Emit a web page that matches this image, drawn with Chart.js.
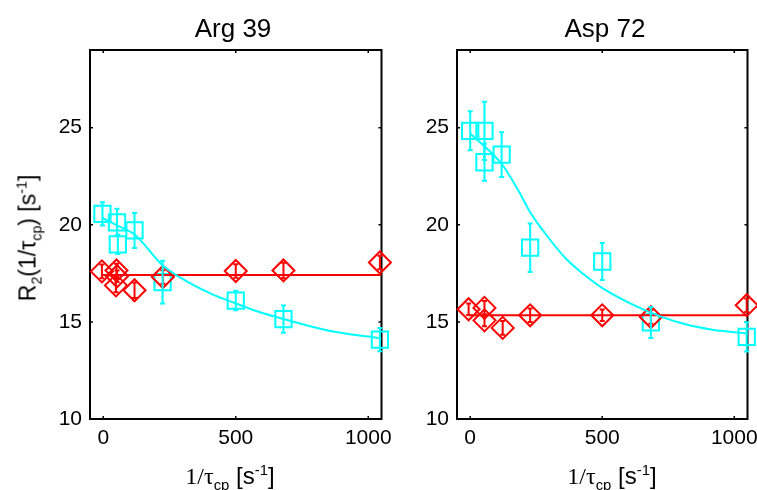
<!DOCTYPE html>
<html>
<head>
<meta charset="utf-8">
<script src="https://cdn.jsdelivr.net/npm/chart.js@4.4.1/dist/chart.umd.min.js"></script>
<style>
  body { margin: 0; width: 757px; height: 490px; background: #fff; position: relative; overflow: hidden;
         font-family: "Liberation Sans", Arial, sans-serif; color: #000; }
  canvas { position: absolute; top: 0; }
  .t { position: absolute; white-space: nowrap; transform: translate(-50%, -50%); line-height: 1; }
  .title { font-size: 26px; }
  .xl { font-size: 24px; }
  .yl { font-size: 23px; transform: translate(-50%, -50%) rotate(-90deg); }
  .serif { font-family: "Liberation Serif", "Times New Roman", serif; }
  sub, sup { font-size: 62%; line-height: 0; }
</style>
</head>
<body>
<canvas id="argChart" style="left:0px"></canvas>
<canvas id="aspChart" style="left:395px"></canvas>

<div class="t title" style="left:233px; top:28px">Arg 39</div>
<div class="t title" style="left:605px; top:28px">Asp 72</div>
<div class="t xl" style="left:230px; top:476px"><span class="serif">1/τ</span><sub>cp</sub> [s<sup>-1</sup>]</div>
<div class="t xl" style="left:612px; top:476px"><span class="serif">1/τ</span><sub>cp</sub> [s<sup>-1</sup>]</div>
<div class="t yl" style="left:28px; top:238px">R<sub>2</sub>(1/τ<sub>cp</sub>) [s<sup>-1</sup>]</div>

<script>
const X_TICKS = [0, 500, 1000];
const Y_TICKS = [10, 15, 20, 25];

// Arg 39 - cyan squares
const argSqX = [-3, 52, 55, 118, 224, 500, 680, 1044];
const argSqY = [20.56, 20.13, 18.99, 19.71, 17.05, 16.1, 15.14, 14.09];
const argSqErr = [0.6, 0.7, 0.5, 0.9, 1.1, 0.5, 0.7, 0.6];
// Arg 39 - red diamonds
const argDiX = [-5, 50, 52, 48, 118, 225, 500, 680, 1044];
const argDiY = [17.6, 17.65, 17.35, 16.88, 16.63, 17.31, 17.62, 17.65, 18.06];
const argDiErr = [0.35, 0.35, 0.3, 0.35, 0.4, 0.35, 0.35, 0.4, 0.35];
// Arg 39 - fits
const argFitCyanX = [-3, 50, 118, 225, 288, 414, 500, 591, 680, 868, 1050];
const argFitCyanY = [20.35, 19.98, 19.5, 17.9, 17.3, 16.4, 15.95, 15.5, 15.15, 14.5, 14.15];
const argFitRedX = [-5, 1050];
const argFitRedY = [17.42, 17.42];

// Asp 72 - cyan squares
const aspSqX = [0, 54, 54, 119, 227, 500, 684, 1047];
const aspSqY = [24.84, 24.84, 23.22, 23.61, 18.82, 18.11, 14.97, 14.23];
const aspSqErr = [1.0, 1.5, 0.95, 1.15, 1.25, 0.95, 0.8, 0.75];
// Asp 72 - red diamonds
const aspDiX = [-6, 54, 54, 123, 227, 500, 684, 1047];
const aspDiY = [15.65, 15.72, 15.08, 14.69, 15.34, 15.34, 15.25, 15.86];
const aspDiErr = [0.3, 0.35, 0.3, 0.35, 0.35, 0.3, 0.35, 0.35];
// Asp 72 - fits
const aspFitCyanX = [0, 119.5, 186, 227, 287, 363, 430, 499, 602, 684, 791, 917, 1056];
const aspFitCyanY = [24.7, 23.13, 21.67, 20.65, 19.5, 18.25, 17.45, 16.75, 15.98, 15.48, 14.97, 14.6, 14.4];
const aspFitRedX = [-6, 1050];
const aspFitRedY = [15.34, 15.34];

const CYAN = '#00ffff';
const RED = '#ff0000';
const FONT = '"Liberation Sans", Arial, sans-serif';

const pts = (xs, ys) => xs.map((x, i) => ({ x: x, y: ys[i] }));

// box with inward ticks, like the original plotting program
const framePlugin = {
  id: 'frame',
  beforeDatasetsDraw(chart) {
    const { ctx, chartArea: a, scales: { x, y } } = chart;
    ctx.save();
    ctx.strokeStyle = '#000';
    ctx.lineWidth = 1.5;
    ctx.beginPath();
    X_TICKS.forEach(v => {
      const px = x.getPixelForValue(v);
      ctx.moveTo(px, a.bottom); ctx.lineTo(px, a.bottom - 3);
      ctx.moveTo(px, a.top); ctx.lineTo(px, a.top + 3);
    });
    Y_TICKS.forEach(v => {
      const py = y.getPixelForValue(v);
      ctx.moveTo(a.left, py); ctx.lineTo(a.left + 3, py);
      ctx.moveTo(a.right, py); ctx.lineTo(a.right - 3, py);
    });
    ctx.stroke();
    ctx.lineWidth = 2;
    ctx.strokeRect(a.left, a.top, a.width, a.height);
    ctx.restore();
  }
};

const errPlugin = {
  id: 'errbars',
  afterDatasetsDraw(chart) {
    const { ctx, scales: { y } } = chart;
    ctx.save();
    chart.data.datasets.forEach((ds, i) => {
      if (!ds.err) return;
      const meta = chart.getDatasetMeta(i);
      ctx.strokeStyle = ds.borderColor;
      ctx.lineWidth = 2;
      meta.data.forEach((el, j) => {
        const v = ds.data[j].y;
        const top = y.getPixelForValue(v + ds.err[j]);
        const bot = y.getPixelForValue(v - ds.err[j]);
        ctx.beginPath();
        ctx.moveTo(el.x, top); ctx.lineTo(el.x, bot);
        ctx.moveTo(el.x - 2.5, top); ctx.lineTo(el.x + 2.5, top);
        ctx.moveTo(el.x - 2.5, bot); ctx.lineTo(el.x + 2.5, bot);
        ctx.stroke();
      });
    });
    ctx.restore();
  }
};

function makeChart(id, w, pad, d) {
  const cv = document.getElementById(id);
  cv.width = w; cv.height = 490;
  cv.style.width = w + 'px'; cv.style.height = '490px';
  return new Chart(cv, {
    data: {
      datasets: [
        { type: 'line', data: pts(d.fcx, d.fcy), borderColor: CYAN, borderWidth: 2, pointRadius: 0,
          cubicInterpolationMode: 'monotone', fill: false },
        { type: 'line', data: pts(d.frx, d.fry), borderColor: RED, borderWidth: 2, pointRadius: 0, fill: false },
        { type: 'scatter', data: pts(d.dx, d.dy), err: d.de, borderColor: RED, backgroundColor: 'rgba(0,0,0,0)',
          pointStyle: 'rectRot', pointRadius: 11, borderWidth: 2, clip: false },
        { type: 'scatter', data: pts(d.sx, d.sy), err: d.se, borderColor: CYAN, backgroundColor: 'rgba(0,0,0,0)',
          pointStyle: 'rect', pointRadius: 11.5, borderWidth: 2, clip: false }
      ]
    },
    options: {
      responsive: false,
      animation: false,
      layout: { padding: pad },
      plugins: { legend: { display: false }, tooltip: { enabled: false } },
      scales: {
        x: {
          type: 'linear', min: -50, max: 1050,
          afterBuildTicks: s => { s.ticks = X_TICKS.map(v => ({ value: v })); },
          afterFit: s => { s.height = 40; s.paddingLeft = 0; s.paddingRight = 0; },
          grid: { display: false, drawTicks: false },
          border: { display: false },
          ticks: { color: '#000', font: { family: FONT, size: 21 }, padding: 7, maxRotation: 0,
                   callback: v => String(v) }
        },
        y: {
          type: 'linear', min: 10, max: 29,
          afterBuildTicks: s => { s.ticks = Y_TICKS.map(v => ({ value: v })); },
          afterFit: s => { s.width = 50; s.paddingTop = 0; s.paddingBottom = 0; },
          grid: { display: false, drawTicks: false },
          border: { display: false },
          ticks: { color: '#000', font: { family: FONT, size: 21 }, padding: 8,
                   callback: v => String(v) }
        }
      }
    },
    plugins: [framePlugin, errPlugin]
  });
}

makeChart('argChart', 395, { top: 50, left: 40, right: 13, bottom: 31 }, {
  sx: argSqX, sy: argSqY, se: argSqErr,
  dx: argDiX, dy: argDiY, de: argDiErr,
  fcx: argFitCyanX, fcy: argFitCyanY,
  frx: argFitRedX, fry: argFitRedY
});

makeChart('aspChart', 366, { top: 50, left: 12, right: 2, bottom: 31 }, {
  sx: aspSqX, sy: aspSqY, se: aspSqErr,
  dx: aspDiX, dy: aspDiY, de: aspDiErr,
  fcx: aspFitCyanX, fcy: aspFitCyanY,
  frx: aspFitRedX, fry: aspFitRedY
});
</script>
</body>
</html>
